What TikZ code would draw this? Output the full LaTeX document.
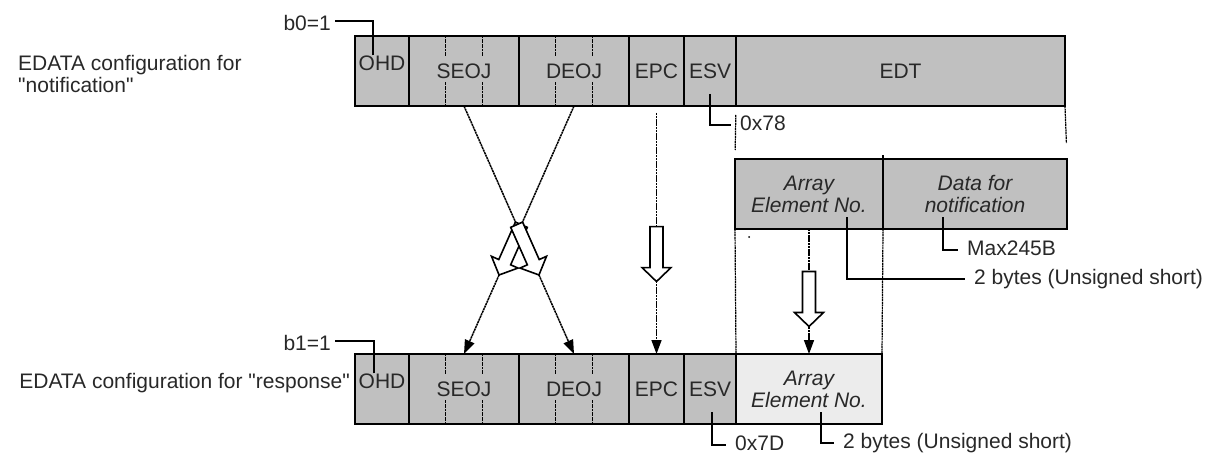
\documentclass[tikz,border=0pt]{standalone}
\usepackage{fontspec}
\setmainfont{Liberation Sans}[Ligatures=TeXOff]
\usetikzlibrary{
  arrows.meta,
  calc,
  positioning
}
\definecolor{FieldGray}{RGB}{192,192,192}
\definecolor{ArrayPale}{RGB}{236,236,236}
\definecolor{InkGray}{RGB}{40,40,40}
\newcommand{\figfont}{\fontsize{21}{22}\selectfont}

\begin{document}
\begin{tikzpicture}[
  x=1pt, y=-1pt,
  font=\figfont,
  text=InkGray,
  node distance=0pt,
  field/.style={draw=black, line width=1.6pt, fill=#1, outer sep=0pt,
                inner sep=0pt, minimum height=70pt, align=center},
  field/.default=FieldGray,
  itfield/.style={field=#1, font=\figfont\itshape},
  itfield/.default=FieldGray,
  note/.style={inner sep=0pt, text height=15pt, text depth=4pt},
  callout/.style={line width=1.4pt, shorten >=9pt},
  tick/.style={dash pattern=on 2pt off 0.6pt, line width=1.2pt},
  guide/.style={dash pattern=on 2pt off 0.6pt, line width=1.2pt},
  feed/.style={dash pattern=on 2.2pt off 0.6pt, line width=1.5pt,
               -{Triangle[length=14pt,width=10pt]}},
  hollow/.pic={
    \draw[line width=1.6pt, fill=white, solid]
      (-27.5,-6.5) -- (13.5,-6.5) -- (13.5,-14.5) -- (27.5,0)
      -- (13.5,14.5) -- (13.5,6.5) -- (-27.5,6.5) -- cycle;
  },
]
  \useasboundingbox (0,0) rectangle (1214,457);

  % frame for notification
  \node[field, minimum width=54pt] (ohd1) at (382,71) {};
  \node[field, minimum width=110pt, right=of ohd1] (seoj1) {SEOJ};
  \node[field, minimum width=110pt, right=of seoj1] (deoj1) {DEOJ};
  \node[field, minimum width=55pt, right=of deoj1] (epc1) {EPC};
  \node[field, minimum width=52pt, right=of epc1] (esv1) {ESV};
  \node[field, minimum width=329pt, right=of esv1] (edt) {EDT};
  \node[inner sep=0pt] (ohdtxt1) at ($(ohd1.center)+(0,-8)$) {OHD};

  % frame for response
  \node[field, minimum width=54pt] (ohd2) at (382,389) {};
  \node[field, minimum width=110pt, right=of ohd2] (seoj2) {SEOJ};
  \node[field, minimum width=110pt, right=of seoj2] (deoj2) {DEOJ};
  \node[field, minimum width=55pt, right=of deoj2] (epc2) {EPC};
  \node[field, minimum width=52pt, right=of epc2] (esv2) {ESV};
  \node[itfield=ArrayPale, minimum width=146pt, right=of esv2] (arrb) {Array\\Element No.};
  \node[inner sep=0pt] (ohdtxt2) at ($(ohd2.center)+(0,-8)$) {OHD};

  % EDT breakdown
  \node[itfield, minimum width=148pt] (arr1) at (809,194) {Array\\Element No.};
  \node[itfield, minimum width=184pt, right=of arr1] (data1) {Data for\\notification};
  \draw[line width=1.6pt] (arr1.north east) -- ++(0,-4);

  % byte ticks
  \foreach \f in {seoj1,deoj1,seoj2,deoj2}
    \foreach \t in {1,2} {
      \draw[tick] ($(\f.north west)!\t/3!(\f.north east)$) -- ++(0,20);
      \draw[tick] ($(\f.south west)!\t/3!(\f.south east)$) -- ++(0,-24);
    }

  % side labels
  \node[anchor=west, align=left, inner sep=0pt] (lblnote) at (18,74)
    {EDATA configuration for\\"notification"};
  \node[anchor=east, inner sep=0pt] (lblresp) at (350,383)
    {EDATA configuration for "response"};

  % callouts
  \node[note, anchor=east] (b0) at (331,25) {b0=1};
  \node[note, anchor=east] (b1) at (331,345) {b1=1};
  \node[note, anchor=west] (hex78) at (740,125) {0x78};
  \node[note, anchor=west] (maxlen) at (967,250) {Max245B};
  \node[note, anchor=west] (idxlen1) at (974,279) {2 bytes (Unsigned short)};
  \node[note, anchor=west] (hex7d) at (735,445) {0x7D};
  \node[note, anchor=west] (idxlen2) at (843,443) {2 bytes (Unsigned short)};

  \draw[callout, shorten >=4pt] ([xshift=-9pt]ohdtxt1.north) |- ([yshift=4pt]b0.east);
  \draw[callout, shorten >=4pt] ([xshift=-8pt]ohdtxt2.north) |- ([yshift=4pt]b1.east);
  \draw[callout] ($(esv1.center)+(0,23)$) |- (hex78.west);
  \draw[callout] ($(data1.center)+(-32,23)$) |- (maxlen.west);
  \draw[callout] ($(arr1.center)+(38,23)$) |- (idxlen1.west);
  \draw[callout] ($(esv2.center)+(2,23)$) |- (hex7d.west);
  \draw[callout] ($(arrb.center)+(12,23)$) |- (idxlen2.west);

  % guide lines
  \draw[guide, shorten <=9pt, shorten >=9pt] (edt.south west) -- (arr1.north west);
  \draw[guide, shorten >=16pt] (edt.south east) -- (data1.north east);
  \draw[guide] (arr1.south west) -- (arrb.north west);
  \draw[guide] (arr1.south east) -- (arrb.north east);
  \fill (749,237) circle (1);

  % copied fields
  \draw[feed, shorten <=7pt] (epc1.south) -- (epc2.north);
  \draw[feed] (arr1.south) -- (arrb.north);
  \foreach \a/\b in {deoj1/seoj2, seoj1/deoj2}
    \draw[feed] (\a.south) -- (\b.north);
  \path (epc1.south) -- pic[pos=0.597, sloped, allow upside down] {hollow} (epc2.north);
  \path (arr1.south) -- pic[pos=0.56, sloped, allow upside down] {hollow} (arrb.north);
  \foreach \a/\b in {deoj1/seoj2, seoj1/deoj2}
    \path (\a.south) -- pic[pos=0.58, sloped, allow upside down] {hollow} (\b.north);
\end{tikzpicture}
\end{document}
